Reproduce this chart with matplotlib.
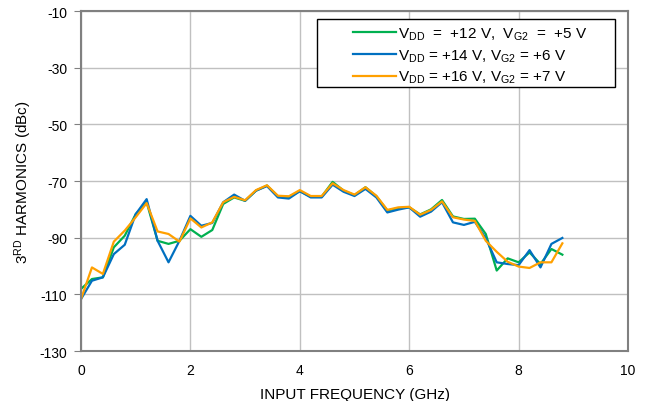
import matplotlib
matplotlib.use('Agg')
import matplotlib.pyplot as plt
from matplotlib.patches import Rectangle
import numpy as np

plt.rcParams['font.family'] = ['Liberation Sans', 'DejaVu Sans']
plt.rcParams['mathtext.fontset'] = 'custom'
plt.rcParams['mathtext.rm'] = 'Liberation Sans'
plt.rcParams['mathtext.it'] = 'Liberation Sans'
plt.rcParams['axes.unicode_minus'] = False

# input frequency (GHz), 0.2 GHz steps
freq = np.round(np.arange(0, 8.81, 0.2), 1)

h3_12v = [-108.1, -104.6, -104.0, -93.4, -89.3, -81.7, -77.5, -91.1, -92.2, -91.1,
          -87.0, -89.7, -87.3, -78.1, -75.8, -77.0, -73.4, -71.6, -75.4, -75.6,
          -73.6, -75.5, -75.5, -70.3, -73.4, -75.0, -72.2, -75.4, -80.4, -79.6,
          -79.3, -81.8, -80.0, -76.7, -82.5, -83.4, -83.3, -88.7, -101.6, -97.3,
          -98.7, -95.2, -99.3, -94.0, -96.0]
h3_14v = [-111.7, -105.2, -104.0, -95.8, -92.5, -81.7, -76.4, -91.1, -98.7, -91.1,
          -82.3, -85.8, -84.8, -77.5, -74.8, -77.0, -73.4, -71.8, -75.8, -76.2,
          -73.6, -75.8, -75.8, -71.3, -73.8, -75.3, -72.8, -75.8, -81.1, -80.1,
          -79.3, -82.6, -80.8, -77.5, -84.6, -85.5, -84.4, -90.2, -98.7, -99.3,
          -99.7, -94.4, -100.5, -92.2, -90.1]
h3_16v = [-111.7, -100.5, -102.8, -91.4, -87.5, -82.8, -77.8, -87.8, -88.7, -91.4,
          -83.2, -86.4, -84.6, -77.5, -75.6, -76.8, -73.2, -71.5, -75.2, -75.4,
          -73.2, -75.3, -75.3, -70.8, -73.2, -74.8, -72.2, -75.2, -80.2, -79.3,
          -79.1, -81.9, -80.2, -77.2, -82.8, -83.6, -84.1, -91.1, -95.0, -98.5,
          -100.2, -100.7, -98.7, -98.7, -92.0]

labels = [r'V$_{\mathrm{DD}}$  =  +12 V,  V$_{\mathrm{G2}}$  =  +5 V',
          r'V$_{\mathrm{DD}}$ = +14 V, V$_{\mathrm{G2}}$ = +6 V',
          r'V$_{\mathrm{DD}}$ = +16 V, V$_{\mathrm{G2}}$ = +7 V']
colors = ['#00B050', '#0070C0', '#FFA000']

fig = plt.figure(figsize=(6.47, 4.02), dpi=100)
ax = fig.add_axes([81 / 647, 1 - 352 / 402, 547 / 647, 340 / 402])

for y, lab, c in zip([h3_12v, h3_14v, h3_16v], labels, colors):
    ax.plot(freq, y, color=c, lw=1.6, label=lab)

ax.set_xlim(0, 10)
ax.set_ylim(-130, -10)
ax.set_xticks(np.arange(0, 11, 2))
ax.set_yticks(np.arange(-130, -9, 20))
ax.grid(True, color='#c0c0c0', lw=1)
ax.set_axisbelow(True)
for s in ax.spines.values():
    s.set_color('#808080')
    s.set_linewidth(1.5)
ax.tick_params(axis='y', length=5, color='#808080', labelsize=10, pad=5)
ax.tick_params(axis='x', length=0, labelsize=10, pad=9)

ax.set_xlabel('INPUT FREQUENCY (GHz)', fontsize=11, labelpad=7)
ax.set_ylabel(r'3$^{\mathrm{RD}}$ HARMONICS (dBc)', fontsize=11, labelpad=4)

# legend frame drawn separately (it is wider than its contents)
ax.add_patch(Rectangle((0.4314, 0.7765), 0.5446, 0.2, transform=ax.transAxes,
                       facecolor='white', edgecolor='black', lw=1, zorder=5))
leg = ax.legend(loc='upper left', bbox_to_anchor=(0.484, 0.98), fontsize=11,
                frameon=False, handlelength=2.8, borderpad=0, labelspacing=0.35,
                handletextpad=0.15)
leg.set_zorder(6)

fig.savefig('out.png', dpi=100)
